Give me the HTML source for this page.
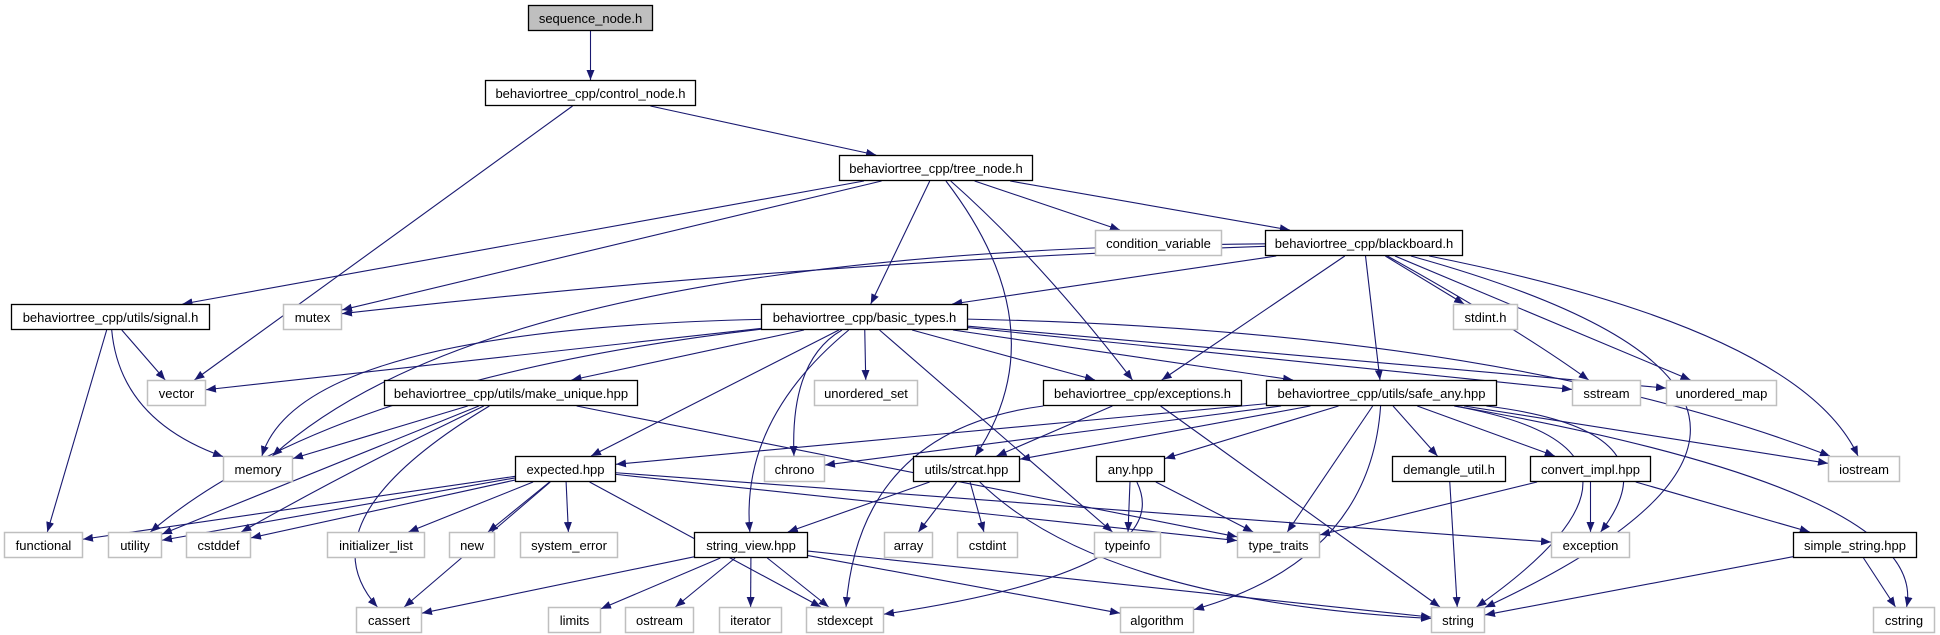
<!DOCTYPE html>
<html><head><meta charset="utf-8">
<style>
html,body{margin:0;padding:0;background:#fff;width:1940px;height:635px;overflow:hidden}
svg{display:block}
text{font-family:"Liberation Sans",Arial,sans-serif;font-size:13px}
</style></head><body>
<svg id="g" width="1940" height="635" xmlns="http://www.w3.org/2000/svg">
<defs><marker id="a" viewBox="0 0 10 8" refX="10" refY="4" markerWidth="10" markerHeight="8" markerUnits="userSpaceOnUse" orient="auto"><path d="M0,0L10,4L0,8z" fill="#191970"/></marker></defs>
<g id="e"></g><g id="n"></g>
</svg>
<script>
var R=[5,80,155,230,304,380,456,532,607];
var N={
seq:[528,653,0,"sequence_node.h",2],
ctl:[485,696,1,"behaviortree_cpp/control_node.h",1],
tree:[839,1033,2,"behaviortree_cpp/tree_node.h",1],
cond:[1095,1222,3,"condition_variable",0],
bb:[1265,1463,3,"behaviortree_cpp/blackboard.h",1],
sig:[11,210,4,"behaviortree_cpp/utils/signal.h",1],
mutex:[283,342,4,"mutex",0],
bt:[761,968,4,"behaviortree_cpp/basic_types.h",1],
stdint:[1453,1518,4,"stdint.h",0],
vector:[147,206,5,"vector",0],
mu:[384,638,5,"behaviortree_cpp/utils/make_unique.hpp",1],
uset:[814,918,5,"unordered_set",0],
exc:[1043,1242,5,"behaviortree_cpp/exceptions.h",1],
sa:[1266,1497,5,"behaviortree_cpp/utils/safe_any.hpp",1],
sstream:[1572,1641,5,"sstream",0],
umap:[1666,1777,5,"unordered_map",0],
memory:[223,293,6,"memory",0],
expct:[515,616,6,"expected.hpp",1],
chrono:[764,825,6,"chrono",0],
strcat:[913,1020,6,"utils/strcat.hpp",1],
any:[1096,1165,6,"any.hpp",1],
dem:[1392,1506,6,"demangle_util.h",1],
conv:[1530,1651,6,"convert_impl.hpp",1],
iostream:[1828,1900,6,"iostream",0],
func:[4,83,7,"functional",0],
util:[108,162,7,"utility",0],
cstddef:[186,251,7,"cstddef",0],
ilist:[327,425,7,"initializer_list",0],
nw:[449,495,7,"new",0],
syserr:[520,618,7,"system_error",0],
sv:[694,808,7,"string_view.hpp",1],
array:[884,933,7,"array",0],
cstdint:[957,1018,7,"cstdint",0],
typeinfo:[1094,1161,7,"typeinfo",0],
tt:[1237,1320,7,"type_traits",0],
exception:[1551,1630,7,"exception",0],
ss:[1793,1917,7,"simple_string.hpp",1],
cassert:[356,422,8,"cassert",0],
limits:[548,601,8,"limits",0],
ostream:[625,694,8,"ostream",0],
iter:[719,782,8,"iterator",0],
stdexc:[806,884,8,"stdexcept",0],
algo:[1120,1194,8,"algorithm",0],
string:[1431,1485,8,"string",0],
cstring:[1873,1935,8,"cstring",0]
};
var E=[
["seq","ctl"],["ctl","tree"],["ctl","vector"],
["tree","sig"],["tree","mutex"],["tree","bt"],["tree","strcat",1060,330],["tree","exc",1040,260],["tree","cond"],["tree","bb"],
["bb","mutex",800,262],["bb","memory",500,250],["bb","bt"],["bb","exc"],["bb","sa"],["bb","sstream",1520,330],["bb","stdint"],["bb","umap"],["bb","iostream",1800,330],["bb","string",1930,400],
["sig","vector"],["sig","memory",120,420],["sig","func"],
["bt","vector"],["bt","memory",300,330],["bt","util",330,380],["bt","mu"],["bt","expct"],["bt","sv",740,420],["bt","chrono",790,360],["bt","uset"],["bt","typeinfo"],["bt","exc"],["bt","sa"],["bt","sstream"],["bt","umap"],["bt","iostream",1500,330],
["mu","memory"],["mu","util"],["mu","cstddef",350,470],["mu","tt"],["mu","cassert",300,520],
["expct","func"],["expct","util"],["expct","cstddef"],["expct","ilist"],["expct","nw"],["expct","syserr"],["expct","stdexc"],["expct","tt"],["expct","exception"],["expct","cassert"],
["exc","strcat"],["exc","stdexc",860,430],["exc","string"],
["sa","expct"],["sa","chrono"],["sa","strcat"],["sa","any"],["sa","tt"],["sa","algo",1370,560],["sa","dem"],["sa","conv"],["sa","string",1700,450],["sa","exception",1680,430],["sa","iostream"],["sa","cstring",1930,490],
["strcat","sv"],["strcat","array"],["strcat","cstdint"],["strcat","string",1100,600],
["any","typeinfo"],["any","tt"],["any","stdexc",1180,570],
["dem","string"],
["conv","tt"],["conv","exception"],["conv","ss"],
["ss","string"],["ss","cstring"],
["sv","cassert"],["sv","limits"],["sv","ostream"],["sv","iter"],["sv","stdexc"],["sv","algo"],["sv","string"]
];
function box(k){var n=N[k];var y=R[n[2]];return {x0:n[0],x1:n[1],y0:y,y1:y+26,cx:(n[0]+n[1])/2,cy:y+13};}
function clip(b,px,py){ // from center toward (px,py), hit border
 var dx=px-b.cx,dy=py-b.cy;var hw=(b.x1-b.x0)/2,hh=13;
 var t=Math.min(dx?hw/Math.abs(dx):1e9,dy?hh/Math.abs(dy):1e9);
 return [b.cx+dx*t,b.cy+dy*t];}
var s="";
E.forEach(function(e){var a=box(e[0]),b=box(e[1]);
 var cx=e[2],cy=e[3];
 if(cx===undefined){var p=clip(a,b.cx,b.cy),q=clip(b,a.cx,a.cy);
  s+='<path d="M'+p[0]+','+p[1]+'L'+q[0]+','+q[1]+'" stroke="#191970" stroke-width="1.1" fill="none" marker-end="url(#a)"/>';}
 else{var p=clip(a,cx,cy),q=clip(b,cx,cy);
  s+='<path d="M'+p[0]+','+p[1]+'Q'+cx+','+cy+' '+q[0]+','+q[1]+'" stroke="#191970" stroke-width="1.1" fill="none" marker-end="url(#a)"/>';}
});
document.getElementById("e").innerHTML=s;
var t="";
for(var k in N){var n=N[k],b=box(k);
 var fill=n[4]==2?"#bfbfbf":"#fff",st=n[4]==0?"#bfbfbf":"#000",sw=n[4]==0?1.5:1.3;
 t+='<rect x="'+(b.x0+0.5)+'" y="'+(b.y0+0.5)+'" width="'+(b.x1-b.x0-1)+'" height="25" fill="'+fill+'" stroke="'+st+'" stroke-width="'+sw+'"/>';
 t+='<text x="'+b.cx+'" y="'+(b.y0+18)+'" text-anchor="middle" fill="#000">'+n[3]+'</text>';}
document.getElementById("n").innerHTML=t;
</script>
</body></html>
